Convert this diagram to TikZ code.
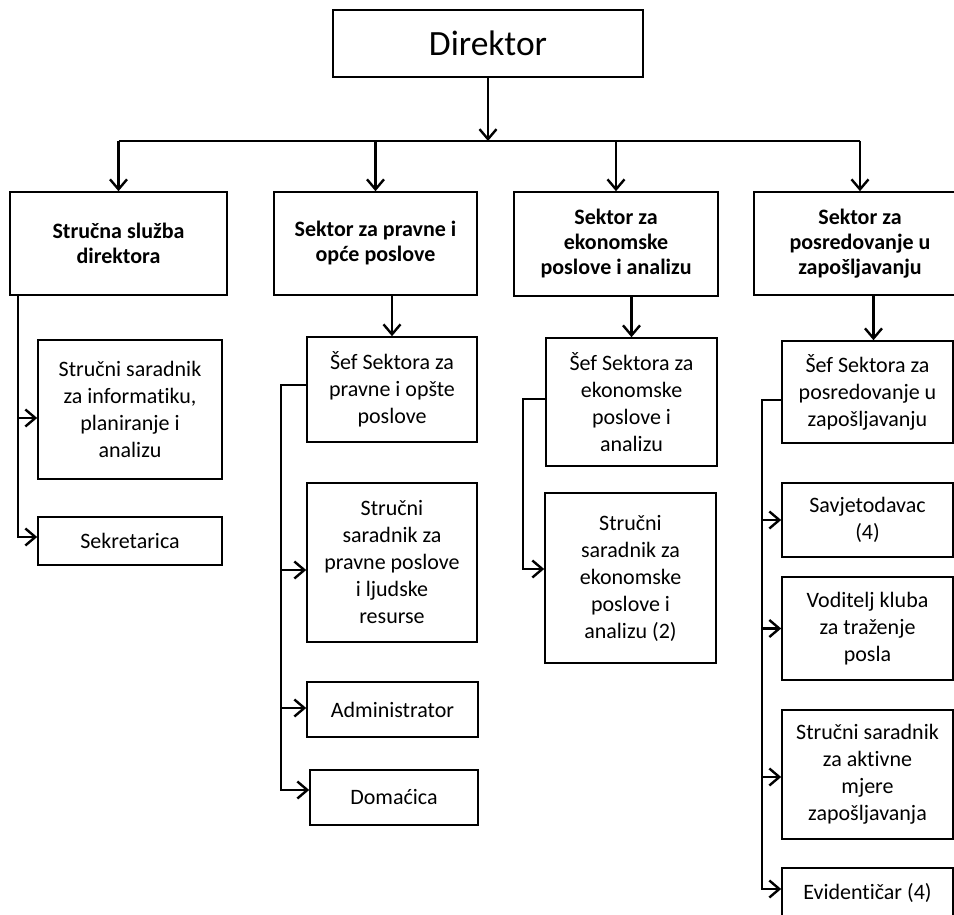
\documentclass[tikz,border=0pt]{standalone}
\usepackage{fontspec}
\setmainfont{Carlito}[Ligatures=NoCommon]
\usetikzlibrary{arrows.meta}

\begin{document}
\begin{tikzpicture}[x=1pt,y=-1pt,
  box/.style={draw, line width=1.6pt, inner sep=0pt, align=center, font=\fontsize{22}{27}\selectfont},
  head/.style={box, font=\fontsize{22}{25}\selectfont\bfseries},
  link/.style={line width=2.2pt, -{Straight Barb[length=10pt,width=17pt,line width=2.4pt]}},
  wire/.style={line width=2.2pt}]
\useasboundingbox (0,0) rectangle (954,915);

\node[box, minimum width=310, minimum height=67, font=\fontsize{35.5}{40}\selectfont] (dir) at (488,43.5) {Direktor};

\node[head, minimum width=217, minimum height=103] (sluzba) at (118.5,243.5) {Stručna služba\\direktora};
\node[head, minimum width=203, minimum height=103] (pravni) at (375.5,243.5) {Sektor za pravne i\\opće poslove};
\node[head, minimum width=204, minimum height=104] (ekonom) at (616,244) {Sektor za\\ekonomske\\poslove i analizu};
\node[head, minimum width=212, minimum height=103] (posred) at (860,243.5) {Sektor za\\posredovanje u\\zapošljavanju};

% strucna sluzba
\node[box, minimum width=184, minimum height=139] (informatika) at (130,409.5) {Stručni saradnik\\za informatiku,\\planiranje i\\analizu};
\node[box, minimum width=184, minimum height=48] (sekretarica) at (130,541) {Sekretarica};

% pravni poslovi
\node[box, minimum width=170, minimum height=105] (sefpravni) at (392,389.5) {Šef Sektora za\\pravne i opšte\\poslove};
\node[box, minimum width=170, minimum height=159] (pravnik) at (392,562.5) {Stručni\\saradnik za\\pravne poslove\\i ljudske\\resurse};
\node[box, minimum width=171, minimum height=55] (admin) at (392.5,709.5) {Administrator};
\node[box, minimum width=168, minimum height=55] (domacica) at (394,797.5) {Domaćica};

% ekonomski poslovi
\node[box, minimum width=171, minimum height=128] (sefekonom) at (631.5,402) {Šef Sektora za\\ekonomske\\poslove i\\analizu};
\node[box, minimum width=171, minimum height=170] (ekonomist) at (630.5,578) {Stručni\\saradnik za\\ekonomske\\poslove i\\analizu (2)};

% posredovanje
\node[box, minimum width=171, minimum height=102] (sefposred) at (867.5,392) {Šef Sektora za\\posredovanje u\\zapošljavanju};
\node[box, minimum width=171, minimum height=74] (savjetodavac) at (867.5,520) {Savjetodavac\\(4)};
\node[box, minimum width=171, minimum height=103] (voditelj) at (867.5,628.5) {Voditelj kluba\\za traženje\\posla};
\node[box, minimum width=171, minimum height=129] (aktivne) at (867.5,774.5) {Stručni saradnik\\za aktivne\\mjere\\zapošljavanja};
\node[box, minimum width=171, minimum height=50] (evidenticar) at (867.5,893) {Eviden{}tičar (4)};

% veze
\coordinate (bus) at (488,141);
\draw[link] (dir.south) -- (bus);
\draw[wire] (sluzba.north |- bus) -- (posred.north |- bus);
\foreach \n in {sluzba,pravni,ekonom,posred}
  \draw[link] (\n.north |- bus) -- (\n.north);

\draw[link] (sefpravni.north |- pravni.south) -- (sefpravni.north);
\draw[link] (sefekonom.north |- ekonom.south) -- (sefekonom.north);
\draw[link] ([xshift=6]sefposred.north |- posred.south) -- ([xshift=6]sefposred.north);

\coordinate (ta) at ([xshift=9]sluzba.south west);
\draw[link] (ta) |- ([yshift=-8.5]informatika.west);
\draw[link] (ta) |- ([yshift=4]sekretarica.west);

\foreach \n/\dy in {pravnik/-7.5, admin/1.5, domacica/7.5}
  \draw[link] ([yshift=4.5]sefpravni.west) -- ++(-25,0) |- ([yshift=\dy]\n.west);

\draw[link] ([yshift=3]sefekonom.west) -- ++(-22,0) |- ([yshift=9]ekonomist.west);

\foreach \n/\dy in {savjetodavac/0, voditelj/0, aktivne/-2.5, evidenticar/4}
  \draw[link] ([yshift=-8]sefposred.west) -- ++(-19,0) |- ([yshift=\dy]\n.west);
\end{tikzpicture}
\end{document}
